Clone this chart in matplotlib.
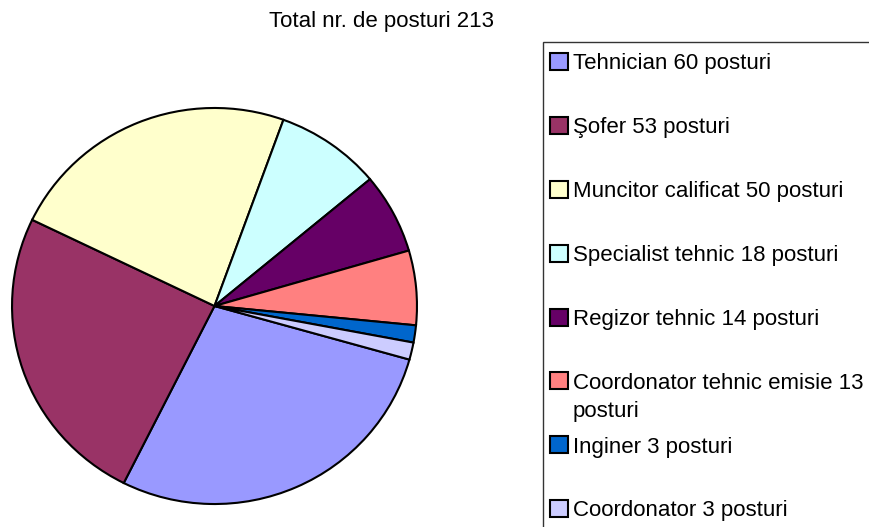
import matplotlib
matplotlib.use("Agg")
import matplotlib.pyplot as plt
from matplotlib.patches import Rectangle

# Data
labels = [
    "Tehnician 60 posturi",
    "Şofer 53 posturi",
    "Muncitor calificat 50 posturi",
    "Specialist tehnic 18 posturi",
    "Regizor tehnic 14 posturi",
    "Coordonator tehnic emisie 13\nposturi",
    "Inginer 3 posturi",
    "Coordonator 3 posturi",
]
values = [60, 53, 50, 18, 14, 13, 3, 3]
colors = ["#9999FF", "#993366", "#FFFFCC", "#CCFFFF",
          "#660066", "#FF8080", "#0066CC", "#CCCCFF"]
title = "Total nr. de posturi 213"

plt.rcParams["font.family"] = ["Liberation Sans", "DejaVu Sans"]
FS = 16

W, H = 870, 527
fig = plt.figure(figsize=(W / 100, H / 100), dpi=100)

# pie area in pixels (slightly wider than tall in the reference)
x0, x1, y0, y1 = 10, 419, 106, 506
ax = fig.add_axes([x0 / W, 1 - y1 / H, (x1 - x0) / W, (y1 - y0) / H])
wedges, _ = ax.pie(values, colors=colors, startangle=-15.7, counterclock=False,
                   radius=1.0,
                   wedgeprops=dict(edgecolor="black", linewidth=1.5))
ax.set_aspect("auto")
ax.set_xlim(-1.01, 1.01)
ax.set_ylim(-1.01, 1.01)
ax.axis("off")

fig.text(382 / W, 1 - 22 / H, title, ha="center", va="center", fontsize=FS)

# legend border runs off the right and bottom of the picture
fig.patches.append(Rectangle((543 / W, -0.1), 1.0, 1.1 - 42 / H,
                             transform=fig.transFigure, fill=False,
                             edgecolor="#333333", linewidth=1.0))

# wrapped label: first line in the legend, the rest hangs below it
first_lines = [s.split("\n")[0] for s in labels]
leg = fig.legend(wedges, first_lines, loc="upper left",
                 bbox_to_anchor=(550 / W, 1 - 53 / H),
                 bbox_transform=fig.transFigure,
                 borderaxespad=0, borderpad=0, frameon=False,
                 fontsize=FS, labelspacing=1.92,
                 handlelength=0.8, handleheight=0.8, handletextpad=0.22)
for p in leg.get_patches():
    p.set_edgecolor("black")
    p.set_linewidth(1.5)

fig.canvas.draw()
r = fig.canvas.get_renderer()
for s, t in zip(labels, leg.get_texts()):
    if "\n" in s:
        bb = t.get_window_extent(r)
        fig.text(bb.x0 / W, (bb.y0 - 18) / H, s.split("\n", 1)[1],
                 ha="left", va="center", fontsize=FS)

fig.savefig("out.png", dpi=100)
